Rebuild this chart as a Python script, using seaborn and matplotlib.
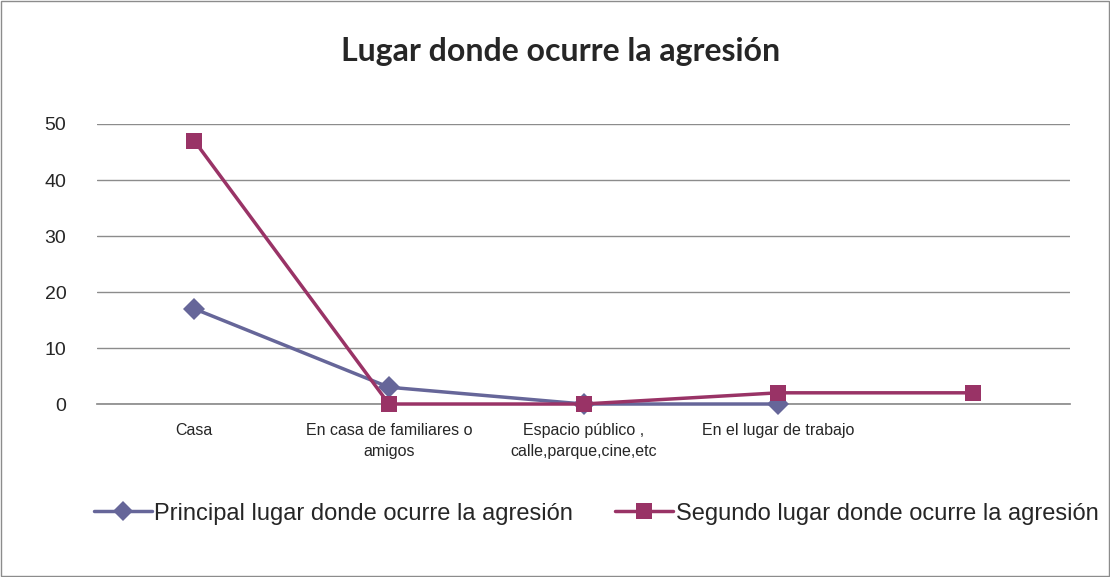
import pandas as pd
import numpy as np
import matplotlib
matplotlib.use('Agg')
import matplotlib.pyplot as plt
import seaborn as sns
from matplotlib.patches import Rectangle
from matplotlib.lines import Line2D

# DATOS DEL GRÁFICO
categorias = ['Casa', 'En casa de familiares o\namigos', 'Espacio público ,\ncalle,parque,cine,etc',
              'En el lugar de trabajo', '']
principal = [17, 3, 0, 0, np.nan]
segundo = [47, 0, 0, 2, 2]
serie_principal = 'Principal lugar donde ocurre la agresión'
serie_segundo = 'Segundo lugar donde ocurre la agresión'

df = pd.DataFrame({
    'pos': list(range(len(categorias))) * 2,
    'valor': principal + segundo,
    'serie': [serie_principal] * len(categorias) + [serie_segundo] * len(categorias),
})

sns.set_theme(style='white')
plt.rcParams['font.family'] = ['Liberation Sans', 'DejaVu Sans']

fig = plt.figure(figsize=(11.1, 5.77), dpi=100)
ax = fig.add_axes([0.0874, 0.2998, 0.8766, 0.4853])

colores = {serie_principal: '#666699', serie_segundo: '#993366'}
sns.lineplot(data=df, x='pos', y='valor', hue='serie', style='serie',
             palette=colores, markers={serie_principal: 'D', serie_segundo: 's'},
             dashes=False, linewidth=2.5, markersize=11, markeredgewidth=0,
             sort=False, ax=ax, legend=False, clip_on=False, zorder=5)

ax.set_xlim(-0.5, len(categorias) - 0.5)
ax.set_ylim(0, 50)
ax.set_yticks([0, 10, 20, 30, 40, 50])
ax.set_xticks(range(len(categorias)))
ax.set_xticklabels(categorias, fontsize=11.5, linespacing=1.5)
ax.tick_params(axis='y', labelsize=14, length=0, pad=22)
ax.tick_params(axis='x', length=0, pad=14)
ax.grid(axis='y', color='#8c8c8c', linewidth=1)
ax.set_axisbelow(True)
for s in ['left', 'right', 'top']:
    ax.spines[s].set_visible(False)
ax.spines['bottom'].set_color('#8c8c8c')
ax.set_xlabel('')
ax.set_ylabel('')

fig.text(0.505, 0.91, 'Lugar donde ocurre la agresión', ha='center', va='center',
         fontsize=23, fontweight='bold', family=['Lato', 'DejaVu Sans'])

# LEYENDA
handles = [Line2D([], [], color=colores[serie_principal], marker='D', markersize=10, linewidth=2.5, markeredgewidth=0),
           Line2D([], [], color=colores[serie_segundo], marker='s', markersize=11, linewidth=2.5, markeredgewidth=0)]
fig.legend(handles, [serie_principal, serie_segundo], loc='center', bbox_to_anchor=(0.537, 0.11),
           ncol=2, frameon=False, handlelength=2.45, handletextpad=0.1,
           columnspacing=1.8, prop={'family': ['Liberation Sans', 'DejaVu Sans'], 'size': 17})

fig.patches.append(Rectangle((0.001, 0.002), 0.998, 0.996, transform=fig.transFigure,
                             fill=False, edgecolor='#8c8c8c', linewidth=1))

fig.savefig('out.png', dpi=100)
